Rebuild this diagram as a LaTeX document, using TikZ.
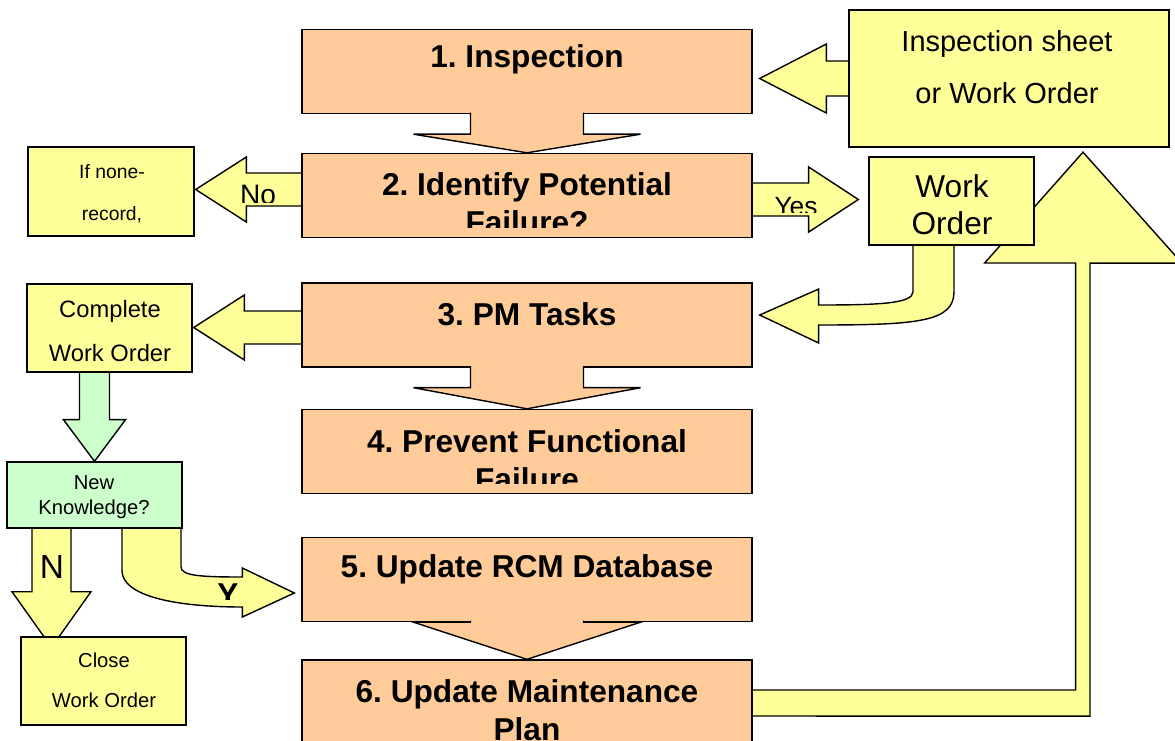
\documentclass[tikz,border=0pt]{standalone}
\usepackage{fontspec}
\setmainfont{Liberation Sans}
\usetikzlibrary{calc,backgrounds,positioning}
\definecolor{peach}{HTML}{FFCC99}
\definecolor{paleyellow}{HTML}{FFFF99}
\definecolor{palegreen}{HTML}{CCFFCC}
\tikzset{
  stepbox/.style={draw=black, fill=peach, line width=0.8pt, minimum width=9cm, minimum height=1.68cm, inner sep=0pt},
  notebox/.style={draw=black, fill=paleyellow, line width=0.8pt, inner sep=0pt},
  steptext/.style={font=\fontsize{18}{21.5}\selectfont\bfseries\frenchspacing, align=center, inner sep=0pt},
  notetext/.style={align=center, inner sep=0pt},
  blockarrow/.style={draw=black, fill=paleyellow, line width=0.8pt, line join=miter},
  steparrow/.style={draw=black, fill=peach, line width=0.8pt, line join=miter}
}

\begin{document}
\begin{tikzpicture}[x=0.02cm,y=-0.02cm]
  \useasboundingbox (0,0) rectangle (1175,740);
  % main steps
  \node[stepbox] (b1) at (527,71.5) {};
  \node[stepbox] (b2) at (527,195.5) {};
  \node[stepbox] (b3) at (527,325) {};
  \node[stepbox] (b4) at (527,451.5) {};
  \node[stepbox] (b5) at (527,579.5) {};
  \node[stepbox] (b6) at (527,702) {};
  % side boxes
  \node[notebox, minimum width=6.4cm, minimum height=2.74cm] (sheet) at (1009,78.5) {};
  \node[notebox, minimum width=3.3cm, minimum height=1.76cm] (wo) at (951.5,201) {};
  \node[notebox, minimum width=3.32cm, minimum height=1.78cm] (none) at (111,191.5) {};
  \node[notebox, minimum width=3.3cm, minimum height=1.76cm] (cwo) at (109.5,328) {};
  \node[notebox, fill=palegreen, minimum width=3.5cm, minimum height=1.32cm] (nk) at (94.5,495) {};
  \node[notebox, minimum width=3.3cm, minimum height=1.76cm] (close) at (103.5,681) {};

  % texts
  \node[steptext] (t1) at (527,59) {1. Inspection};
  \begin{scope}
    \clip (b2.north west) rectangle ($(b2.south east)+(0,-10.5)$);
    \node[steptext] (t2) at (527,203.5) {2. Identify Potential\\Failure?};
  \end{scope}
  \node[steptext] (t3) at (527,314) {3. PM Tasks};
  \begin{scope}
    \clip (b4.north west) rectangle ($(b4.south east)+(0,-10.5)$);
    \node[steptext] (t4) at (527,460.5) {4. Prevent Functional\\Failure};
  \end{scope}
  \node[steptext] (t5) at (527,569) {5. Update RCM Database};
  \node[steptext] (t6) at (527,710.5) {6. Update Maintenance\\Plan};
  \node[notetext, font=\fontsize{16.5}{29.5}\selectfont] (ts) at (1007,67) {Inspection sheet\\or Work Order};
  \node[notetext, font=\fontsize{18}{21}\selectfont] (tw) at (952,204.5) {Work\\Order};
  \node[notetext, font=\fontsize{11}{24}\selectfont] (tn) at (112,194) {If none-\\record,};
  \node[notetext, font=\fontsize{13.5}{25}\selectfont] (tc) at (110,331) {Complete\\Work Order};
  \begin{scope}
    \clip (nk.north west) rectangle ($(nk.south east)+(0,-10.5)$);
    \node[notetext, font=\fontsize{11.5}{13.9}\selectfont] (tk) at (94,497) {New\\Knowledge?};
  \end{scope}
  \node[notetext, font=\fontsize{11.5}{23}\selectfont] (tl) at (104,680) {Close\\Work Order};

  % step arrows
  \draw[steparrow] ($(b1.south)+(-56.5,-1.5)$) -- ($(b1.south)+(-56.5,20)$) -- ($(b1.south)+(-113.5,20)$)
    -- (b2.north) -- ($(b1.south)+(113.5,20)$) -- ($(b1.south)+(56.5,20)$) -- ($(b1.south)+(56.5,-1.5)$);
  \draw[steparrow] ($(b3.south)+(-56.5,-1.5)$) -- ($(b3.south)+(-56.5,20)$) -- ($(b3.south)+(-113.5,20)$)
    -- (b4.north) -- ($(b3.south)+(113.5,20)$) -- ($(b3.south)+(56.5,20)$) -- ($(b3.south)+(56.5,-1.5)$);
  \draw[steparrow] ($(b5.south)+(-56.5,-1.5)$) -- ($(b5.south)+(-56.5,0)$) -- ($(b5.south)+(-113.5,0)$)
    -- (b6.north) -- ($(b5.south)+(113.5,0)$) -- ($(b5.south)+(56.5,0)$) -- ($(b5.south)+(56.5,-1.5)$);

  % side arrows
  \begin{scope}[on background layer]
    \draw[blockarrow] ($(sheet.west)+(0,-17.5)$) -- ++(-22,0) -- ++(0,-17)
      -- ($(b1.east |- sheet.west)+(7,0)$) -- ($(sheet.west)+(-22,34.5)$) -- ++(0,-17) -- ($(sheet.west)+(0,17.5)$);
    \draw[blockarrow] ($(b2.west)+(0,-22.5)$) -- ++(-55,0) -- ++(0,-16)
      -- ($(none.east)+(1,-2)$) -- ($(b2.west)+(-55,26.5)$) -- ++(0,-16) -- ($(b2.west)+(0,10.5)$);
    \draw[blockarrow] ($(b2.east)+(0,-12.5)$) -- ++(56,0) -- ++(0,-16)
      -- ($(wo.west)+(-10,-1.5)$) -- ($(b2.east)+(56,36.5)$) -- ++(0,-16) -- ($(b2.east)+(0,20.5)$);
    \draw[blockarrow] ($(wo.south)+(-38.5,0)$) -- ++(0,46)
      .. controls +(0,12) and +(60,0) .. ($(b3.east)+(66,-20)$)
      -- ++(0,-16) -- ($(b3.east)+(7,-10)$) -- ($(b3.east)+(66,18)$) -- ++(0,-18)
      .. controls +(100,0) and +(0,30) .. ($(wo.south)+(2.5,46)$) -- ($(wo.south)+(2.5,0)$);
    \draw[blockarrow] ($(b3.west)+(0,-14)$) -- ++(-57,0) -- ++(0,-16)
      -- ($(cwo.east)+(1,-0.5)$) -- ($(b3.west)+(-57,35)$) -- ++(0,-16) -- ($(b3.west)+(0,19)$);
    \draw[blockarrow, fill=palegreen] ($(nk.north |- cwo.south)+(-15,0)$) -- ++(0,47) -- ++(-16,0)
      -- (nk.north) -- ($(nk.north |- cwo.south)+(31,47)$) -- ++(-16,0) -- ++(0,-47);
    \draw[blockarrow] ($(nk.south)+(-62.5,0)$) -- ++(0,63) -- ++(-20,0)
      -- ($(close.north)+(-52,11)$) -- ($(nk.south)+(-3.5,63)$) -- ++(-20,0) -- ++(0,-63);
    \draw[blockarrow] ($(nk.south)+(86.5,0)$) -- ++(0,38)
      .. controls +(0,9) and +(-43,0) .. ($(b5.west)+(-59,-2.5)$)
      -- ++(0,-9) -- ($(b5.west)+(-7,13.5)$) -- ($(b5.west)+(-59,37.5)$) -- ++(0,-10)
      .. controls +(-68,0) and +(0,25) .. ($(nk.south)+(27.5,42)$) -- ($(nk.south)+(27.5,0)$);
    \draw[blockarrow] ($(b6.east)+(0,-12)$) -- ++(323,0) -- ++(0,-427) -- ++(-91,0)
      -- ($(sheet.south)+(74,4.5)$) -- ++(99,111) -- ++(-92,0) -- ++(0,453) -- ($(b6.east)+(0,14)$);
  \end{scope}

  % arrow labels
  \begin{scope}
    \clip (230,170) rectangle (290,202);
    \node[notetext, font=\fontsize{16}{16}\selectfont] (lno) at (258,195) {No};
  \end{scope}
  \begin{scope}
    \clip (765,185) rectangle (830,212);
    \node[notetext, font=\fontsize{15}{15}\selectfont] (lyes) at (796,206.5) {Yes};
  \end{scope}
  \node[notetext, font=\fontsize{19}{19}\selectfont] (ln) at (52,567) {N};
  \begin{scope}
    \clip (210,575) rectangle (250,599);
    \node[notetext, font=\fontsize{18}{18}\selectfont\bfseries] (ly) at (228,594.5) {Y};
  \end{scope}
\end{tikzpicture}
\end{document}
